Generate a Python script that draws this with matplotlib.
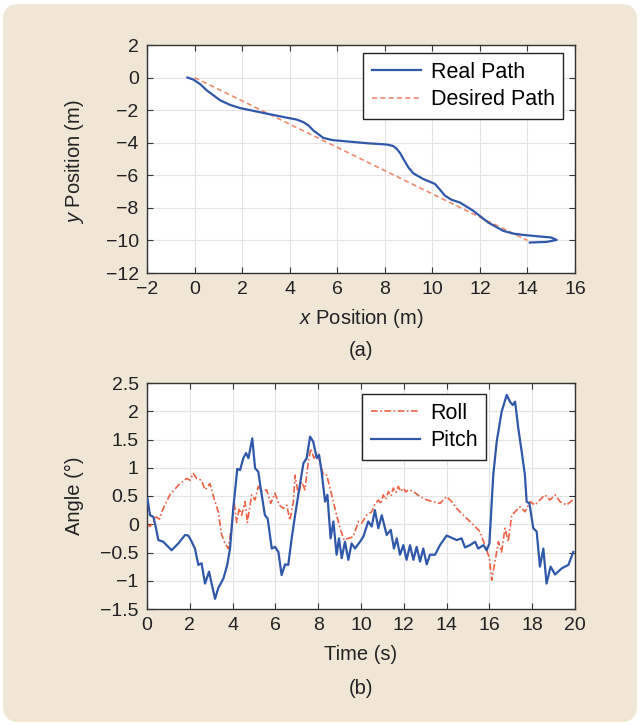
import matplotlib
matplotlib.use("Agg")
import matplotlib.pyplot as plt
from matplotlib.patches import FancyBboxPatch

plt.rcParams['font.family'] = ['Liberation Sans', 'DejaVu Sans']
plt.rcParams['mathtext.fontset'] = 'custom'
plt.rcParams['mathtext.rm'] = 'Liberation Sans'
plt.rcParams['mathtext.it'] = 'Liberation Sans:italic'

# --- Path data (metres) ---
real_x = [-0.30, -0.05, 0.25, 0.51, 1.07, 1.50, 1.91, 2.89, 3.87, 4.30, 4.57, 4.80,
          4.99, 5.41, 5.80, 6.26, 7.24, 8.08, 8.35, 8.50, 8.65, 8.78, 8.99, 9.20, 9.62,
          10.11, 10.30, 10.53, 10.80, 11.16, 11.72, 12.35, 12.98, 13.40, 13.82, 14.53,
          15.00, 15.23, 14.81, 14.10]
real_y = [0.00, -0.12, -0.42, -0.78, -1.39, -1.68, -1.87, -2.17, -2.46, -2.58, -2.73,
          -2.95, -3.24, -3.70, -3.84, -3.90, -4.03, -4.11, -4.20, -4.37, -4.65, -4.99,
          -5.51, -5.88, -6.23, -6.53, -6.85, -7.25, -7.50, -7.67, -8.18, -8.90, -9.41,
          -9.58, -9.66, -9.76, -9.82, -9.97, -10.09, -10.13]
desired_x = [0.0, 14.0]
desired_y = [0.0, -10.0]

# --- Attitude data (degrees) ---
pitch_t = [0.02, 0.14, 0.30, 0.42, 0.53, 0.76, 1.15, 1.46, 1.78, 1.93, 2.09, 2.24, 2.40,
           2.55, 2.71, 2.90, 3.02, 3.18, 3.33, 3.57, 3.75, 3.88, 4.03, 4.22, 4.35, 4.50,
           4.63, 4.74, 4.92, 5.05, 5.20, 5.31, 5.51, 5.64, 5.83, 5.98, 6.14, 6.29, 6.45,
           6.60, 6.76, 6.92, 7.12, 7.31, 7.46, 7.62, 7.77, 7.93, 8.04, 8.16, 8.32, 8.43,
           8.58, 8.71, 8.86, 8.97, 9.10, 9.25, 9.41, 9.56, 9.72, 9.95, 10.11, 10.34,
           10.50, 10.65, 10.81, 10.97, 11.20, 11.39, 11.54, 11.67, 11.82, 11.98, 12.13,
           12.29, 12.45, 12.60, 12.76, 12.91, 13.07, 13.22, 13.46, 13.69, 14.00, 14.24,
           14.47, 14.70, 14.86, 15.09, 15.33, 15.48, 15.72, 15.87, 16.00, 16.18, 16.34,
           16.57, 16.81, 16.96, 17.09, 17.20, 17.35, 17.51, 17.66, 17.74, 17.87, 18.05,
           18.21, 18.36, 18.52, 18.67, 18.86, 19.07, 19.38, 19.69, 19.92]
pitch = [0.46, 0.16, 0.13, -0.07, -0.28, -0.31, -0.46, -0.34, -0.19, -0.20, -0.31, -0.43,
         -0.72, -0.69, -1.05, -0.84, -1.05, -1.32, -1.13, -0.96, -0.72, -0.43, 0.28, 0.98,
         0.96, 1.17, 1.26, 1.17, 1.52, 0.99, 0.93, 0.64, 0.16, 0.10, -0.43, -0.40, -0.49,
         -0.90, -0.71, -0.72, -0.25, 0.16, 0.64, 1.08, 1.17, 1.55, 1.46, 1.17, 1.23, 0.93,
         0.40, 0.52, -0.25, 0.05, -0.54, -0.25, -0.60, -0.31, -0.63, -0.34, -0.43, -0.31,
         -0.22, 0.05, -0.04, 0.25, -0.07, 0.16, -0.19, -0.10, -0.43, -0.25, -0.54, -0.37,
         -0.63, -0.37, -0.63, -0.40, -0.66, -0.43, -0.71, -0.54, -0.54, -0.37, -0.20,
         -0.24, -0.28, -0.25, -0.41, -0.37, -0.31, -0.43, -0.37, -0.46, -0.34, 0.87, 1.46,
         1.99, 2.29, 2.17, 2.11, 2.17, 1.70, 1.28, 0.87, 0.40, 0.37, -0.07, -0.13, -0.75,
         -0.43, -1.05, -0.75, -0.89, -0.78, -0.72, -0.49]

roll_t = [0.02, 0.14, 0.30, 0.42, 0.58, 0.76, 1.07, 1.46, 1.85, 2.01, 2.16, 2.32, 2.55,
          2.71, 2.94, 3.13, 3.33, 3.49, 3.65, 3.80, 3.96, 4.07, 4.19, 4.31, 4.42, 4.58,
          4.69, 4.89, 5.05, 5.20, 5.36, 5.59, 5.78, 5.98, 6.18, 6.37, 6.53, 6.68, 6.84,
          6.92, 7.07, 7.23, 7.38, 7.54, 7.65, 7.80, 7.93, 8.08, 8.24, 8.40, 8.55, 8.71,
          8.86, 9.02, 9.21, 9.41, 9.64, 9.88, 10.03, 10.26, 10.50, 10.65, 10.81, 10.93,
          11.04, 11.16, 11.28, 11.40, 11.51, 11.63, 11.74, 11.86, 11.98, 12.10, 12.21,
          12.45, 12.76, 13.07, 13.38, 13.69, 14.00, 14.24, 14.47, 14.78, 15.09, 15.33,
          15.56, 15.79, 16.00, 16.11, 16.26, 16.42, 16.57, 16.73, 16.88, 17.04, 17.20,
          17.43, 17.66, 17.90, 18.13, 18.36, 18.60, 18.83, 19.07, 19.30, 19.61, 19.89]
roll = [0.00, -0.04, 0.05, 0.13, 0.09, 0.28, 0.52, 0.69, 0.81, 0.78, 0.90, 0.81, 0.78,
        0.61, 0.72, 0.46, 0.22, -0.19, -0.34, -0.43, 0.00, 0.40, 0.03, 0.28, 0.16, 0.40,
        0.03, 0.52, 0.43, 0.67, 0.58, 0.61, 0.37, 0.55, 0.34, 0.28, 0.34, 0.07, 0.40,
        0.87, 0.52, 0.75, 0.61, 1.11, 1.34, 1.17, 1.26, 1.11, 0.87, 0.87, 0.64, 0.40,
        0.16, -0.07, -0.28, -0.25, -0.22, 0.05, 0.02, 0.16, 0.22, 0.35, 0.43, 0.36,
        0.52, 0.44, 0.58, 0.50, 0.64, 0.56, 0.67, 0.58, 0.64, 0.57, 0.61,
        0.58, 0.49, 0.43, 0.40, 0.37, 0.49, 0.40, 0.28, 0.16, 0.05, -0.04,
        -0.13, -0.37, -0.60, -0.99, -0.66, -0.31, -0.49, -0.07, -0.31, 0.16, 0.22,
        0.31, 0.22, 0.40, 0.34, 0.43, 0.52, 0.43, 0.52, 0.40, 0.34, 0.43]

BLUE = '#2F57AA'
SALMON = '#F28A6E'
RED = '#EE5030'
PANEL = '#EFE6D6'
GRID = '#E4E4E4'
FRAME = '#333333'
INK = '#222222'
TFS = 14      # tick labels
LFS = 14.5    # axis titles and captions
GFS = 15.5    # legend entries

W, H = 640, 725
fig = plt.figure(figsize=(W / 100, H / 100), dpi=100)
fig.patch.set_facecolor('white')
panel = FancyBboxPatch((3 / W, 3 / H), 634 / W, 718 / H,
                       boxstyle="round,pad=0,rounding_size=0.025",
                       transform=fig.transFigure, facecolor=PANEL, edgecolor='none',
                       mutation_aspect=W / H, zorder=-10)
fig.patches.append(panel)


def minus(v):
    return f'{v:g}'.replace('-', '\u2212')


def frame_axes(rect):
    l, t, r, b = rect
    ax = fig.add_axes([l / W, 1 - b / H, (r - l) / W, (b - t) / H])
    ax.set_facecolor('white')
    ax.grid(True, color=GRID, linewidth=0.8)
    ax.set_axisbelow(True)
    ax.tick_params(direction='in', length=4, width=0.8, color=FRAME, labelsize=TFS,
                   top=True, right=True, labelcolor=INK, pad=6)
    for s in ax.spines.values():
        s.set_color(FRAME)
        s.set_linewidth(1.0)
    return ax


def legend_at(ax, left_px, top_px):
    return ax.legend(loc='upper left', bbox_to_anchor=(left_px / W, 1 - top_px / H),
                     bbox_transform=fig.transFigure, borderaxespad=0, fontsize=GFS,
                     frameon=True, fancybox=False, edgecolor=INK, framealpha=1,
                     handlelength=2.3, handletextpad=0.45, borderpad=0.4,
                     labelspacing=0.3)


# (a) path in the horizontal plane
ax1 = frame_axes((147, 45, 575, 273))
ax1.plot(real_x, real_y, color=BLUE, lw=1.6, label='Real Path', zorder=3)
ax1.plot(desired_x, desired_y, color=SALMON, lw=1.2, ls=(0, (3, 2)),
         label='Desired Path', zorder=2)
ax1.set_xlim(-2, 16)
ax1.set_ylim(-12, 2)
xt1 = list(range(-2, 17, 2))
yt1 = list(range(-12, 3, 2))
ax1.set_xticks(xt1)
ax1.set_yticks(yt1)
ax1.set_xticklabels([minus(v) for v in xt1])
ax1.set_yticklabels([minus(v) for v in yt1])
legend_at(ax1, 363, 53)

fig.text(361 / W, 1 - 318 / H, r'$\mathit{x}$ Position (m)', fontsize=LFS,
         ha='center', va='center', color=INK)
fig.text(361 / W, 1 - 350 / H, '(a)', fontsize=LFS, ha='center', va='center',
         color=INK)
fig.text(74 / W, 1 - 162 / H, r'$\mathit{y}$ Position (m)', fontsize=LFS,
         rotation=90, ha='center', va='center', color=INK)

# (b) attitude angles over time
ax2 = frame_axes((147, 383, 575, 609))
ax2.plot(roll_t, roll, color=RED, lw=1.2, ls=(0, (4, 1.5, 1, 1.5)), label='Roll',
         zorder=2, alpha=0.9)
ax2.plot(pitch_t, pitch, color=BLUE, lw=1.6, label='Pitch', zorder=3)
ax2.set_xlim(0, 20)
ax2.set_ylim(-1.5, 2.5)
xt2 = list(range(0, 21, 2))
yt2 = [-1.5, -1, -0.5, 0, 0.5, 1, 1.5, 2, 2.5]
ax2.set_xticks(xt2)
ax2.set_yticks(yt2)
ax2.set_yticklabels([minus(v) for v in yt2])
legend_at(ax2, 362, 394)

fig.text(361 / W, 1 - 655 / H, 'Time (s)', fontsize=LFS, ha='center', va='center',
         color=INK)
fig.text(361 / W, 1 - 688 / H, '(b)', fontsize=LFS, ha='center', va='center',
         color=INK)
fig.text(74 / W, 1 - 496 / H, 'Angle (°)', fontsize=LFS, rotation=90,
         ha='center', va='center', color=INK)

fig.savefig('out.png', dpi=100, facecolor='white')
